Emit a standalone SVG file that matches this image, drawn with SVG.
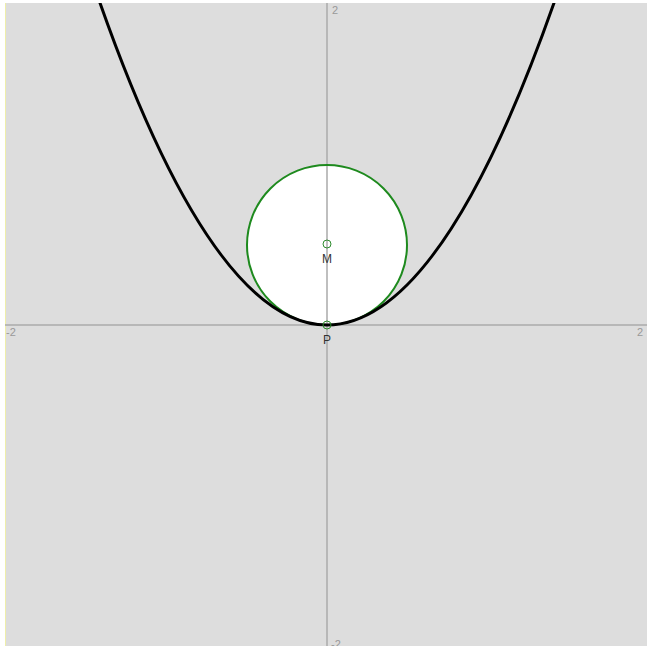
<svg xmlns="http://www.w3.org/2000/svg" width="647" height="646" viewBox="0 0 647 646">
<style>
.axis{stroke:#aaaaaa;stroke-width:1.5;fill:none}
.tick{font-family:"Liberation Sans",Arial,sans-serif;font-size:11px;fill:#999999}
.lbl{font-family:"Liberation Sans",Arial,sans-serif;font-size:12px;fill:#333333}
.pt{fill:none;stroke:#2e8b2e;stroke-width:1}
</style>
<defs><clipPath id="c"><rect x="5" y="3" width="642" height="643"/></clipPath></defs>
<rect x="0" y="0" width="647" height="646" fill="#ffffff"/>
<rect x="5" y="3" width="642" height="643" fill="#dddddd"/>
<line x1="5.5" y1="3" x2="5.5" y2="646" stroke="#eeeeaa" stroke-width="1"/>
<g id="circle"><circle cx="327" cy="245" r="80" fill="#ffffff"/></g>
<g id="axes">
<line class="axis" x1="5" y1="325" x2="647" y2="325"/>
<line class="axis" x1="327" y1="3" x2="327" y2="646"/>
<text class="tick" x="6" y="336">-2</text>
<text class="tick" x="637" y="336">2</text>
<text class="tick" x="332" y="14">2</text>
<text class="tick" x="331" y="648">-2</text>
</g>
<g id="circle-stroke"><circle cx="327" cy="245" r="80" fill="none" stroke="#1e8a1e" stroke-width="2"/></g>
<g id="parabola" clip-path="url(#c)">
<path d="M 95 -11.4 Q 327 661.4 559 -11.4" fill="none" stroke="#000000" stroke-width="3"/>
</g>
<g id="M"><circle class="pt" cx="327" cy="244" r="4"/><text class="lbl" x="327" y="263" text-anchor="middle">M</text></g>
<g id="P"><circle class="pt" cx="327" cy="325" r="4"/><text class="lbl" x="327" y="344" text-anchor="middle">P</text></g>
</svg>
